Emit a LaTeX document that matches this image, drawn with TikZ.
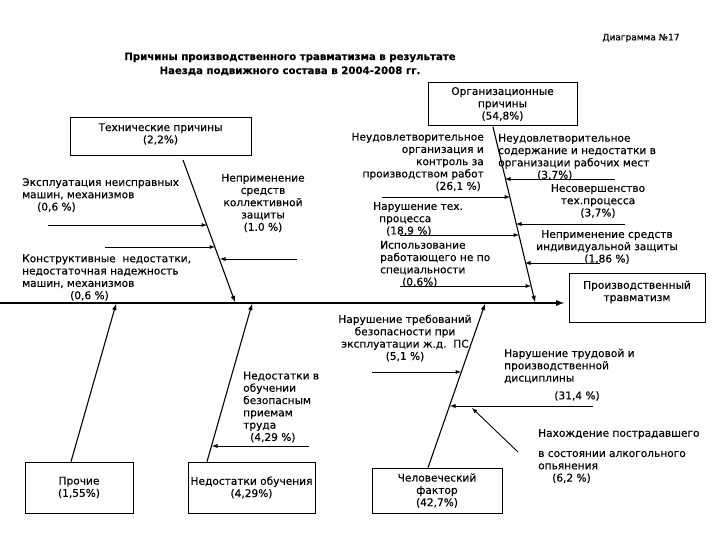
\documentclass[tikz,border=0pt]{standalone}
\usepackage{fontspec}
\setmainfont{DejaVu Sans}[FakeBold=0.35]
\usetikzlibrary{calc}

\begin{document}
\begin{tikzpicture}[x=1pt, y=-1pt, font=\fontsize{10.6}{12.3}\selectfont, every node/.style={inner sep=0pt}]
\tikzset{edge/.style = {->,> = latex, line width=.9 pt}}
\tikzset{spine/.style = {->,> = latex, line width=1.1 pt}}
\tikzset{box/.style = {rectangle, draw, line width=.7 pt, align=center}}

   \useasboundingbox (0,0) rectangle (720,540);

   \node[font=\fontsize{9}{10}\selectfont] (diag) at (641,38) {Диаграмма №17};
   \node[font=\bfseries\fontsize{10.2}{14}\selectfont, align=center] (title) at (290,64)
      {Причины производственного травматизма в результате\\Наезда подвижного состава в 2004-2008 гг.};

   % boxes
   \node[box, minimum width=149, minimum height=43] (orgbox) at (502.5,104) {Организационные\\причины\\(54,8\%)};
   \node[box, minimum width=181, minimum height=38] (techbox) at (160.5,136) {};
   \node[align=center] (techtext) at (160.5,134) {Технические причины\\(2,2\%)};
   \node[box, minimum width=136, minimum height=49] (resbox) at (637,297.5) {};
   \node[align=center] (restext) at (637,292) {Производственный\\травматизм};
   \node[box, minimum width=108, minimum height=51] (prbox) at (79,487.5) {Прочие\\(1,55\%)};
   \node[box, minimum width=127, minimum height=51] (obbox) at (251.5,487.5) {Недостатки обучения\\(4,29\%)};
   \node[box, minimum width=130, minimum height=45] (humbox) at (437,490.5) {Человеческий\\фактор\\(42,7\%)};

   % spines
   \coordinate (m0) at (0,303);
   \coordinate (m1) at (564,303);
   \draw[spine, line width=1.7pt] (m0) -- (m1);
   \coordinate (tA) at (183,160);
   \coordinate (tB) at (235,302);
   \draw[spine] (tA) -- (tB);
   \coordinate (oA) at (493,127);
   \coordinate (oB) at (535,302);
   \draw[spine] (oA) -- (oB);
   \coordinate (pB) at (116,304);
   \draw[spine] ([xshift=-8pt]prbox.north) -- (pB);
   \coordinate (bB) at (252,304);
   \draw[spine] ([xshift=-44.5pt]obbox.north) -- (bB);
   \coordinate (hB) at (485,304);
   \draw[spine] ([xshift=-9pt]humbox.north) -- (hB);

   % branches
   \foreach \nm/\sx/\ex/\yy in {ta/48/207/225, tb/105/215/247, tc/297/220/259,
        oa/382/510/197, ob/400/519/235, oc/400/531/286, od/615/505/179, oe/625/516/224, of/600/525/263,
        ba/309/212/446, ha/372/461/372, hb/593/450/406}
     {\coordinate (\nm-s) at (\sx,\yy);
      \coordinate (\nm-e) at (\ex,\yy);
      \draw[edge] (\nm-s) -- (\nm-e);}
   \coordinate (hc-s) at (518,452);
   \coordinate (hc-e) at (472,408);
   \draw[edge] (hc-s) -- (hc-e);

   % labels
   \node[anchor=west, align=left] (l-expl) at (22,195) {Эксплуатация неисправных\\машин, механизмов\\\hspace*{15pt}(0,6 \%)};
   \node[anchor=west, align=left] (l-konstr) at (22,277.5) {Конструктивные\ \ недостатки,\\недостаточная надежность\\машин, механизмов\\\hspace*{48pt}(0,6 \%)};
   \node[align=center] (l-koll) at (263,203) {Неприменение\\средств\\коллективной\\защиты\\(1.0 \%)};
   \node[anchor=east, align=right] (l-org) at (484,162) {Неудовлетворительное\\организация и\\контроль за\\производством работ\\(26,1 \%)\hspace*{3pt}};
   \node[anchor=west, align=left] (l-teh) at (373,219) {Нарушение тех.\\\hspace*{6pt}процесса\\\hspace*{13pt}(18,9 \%)};
   \node[anchor=west, align=left] (l-spec) at (380,264) {Использование\\работающего не по\\специальности\\\hspace*{22pt}(0,6\%)};
   \node[anchor=west, align=left] (l-rab) at (498,157) {Неудовлетворительное\\содержание и недостатки в\\организации рабочих мест\\\hspace*{39pt}(3,7\%)};
   \node[align=center] (l-proc) at (598,201) {Несовершенство\\тех.процесса\\(3,7\%)};
   \node[align=center] (l-ind) at (607,247) {Неприменение средств\\индивидуальной защиты\\(1,86 \%)};
   \node[anchor=west, align=left] (l-obuch) at (243,407) {Недостатки в\\обучении\\безопасным\\приемам\\труда\\\hspace*{7pt}(4,29 \%)};
   \node[align=center] (l-treb) at (405,338) {Нарушение требований\\безопасности при\\эксплуатации ж.д.\ \ ПС\\(5,1 \%)};
   \node[anchor=west, align=left] (l-disc) at (504,366) {Нарушение трудовой и\\производственной\\дисциплины};
   \node (l-trud) at (577,396) {(31,4 \%)};
   \node[anchor=west] (l-nah) at (538,434) {Нахождение пострадавшего};
   \node[anchor=west, align=left] (l-alk) at (538,467) {в состоянии алкогольного\\опьянения\\\hspace*{14pt}(6,2 \%)};

\end{tikzpicture}
\end{document}
